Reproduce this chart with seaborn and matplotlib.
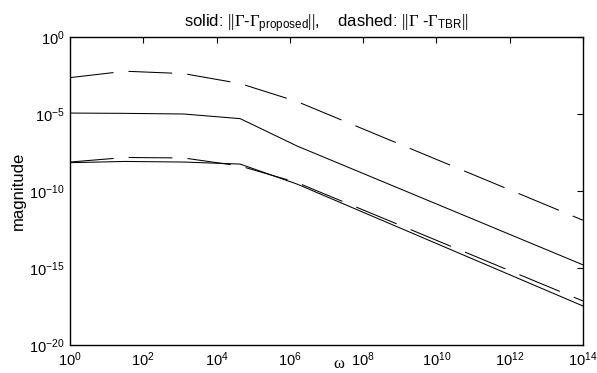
import matplotlib
matplotlib.use("Agg")
import matplotlib.pyplot as plt
import matplotlib.ticker as mticker
import seaborn as sns
import pandas as pd

# ---- data ----
omega = [1e0, 3.2e1, 1.26e3, 4.4e4, 1.58e6, 1e14]
solid_upper = [1.15e-5, 1.1e-5, 1.0e-5, 5.0e-6, 8.3e-8, 1.6e-15]
dashed_upper = [2.3e-3, 6.0e-3, 4.2e-3, 9.5e-4, 6.4e-5, 1.26e-12]
solid_lower = [6.9e-9, 8.3e-9, 7.6e-9, 5.6e-9, 2.8e-10, 3.4e-18]
dashed_lower = [7.6e-9, 1.5e-8, 1.4e-8, 4.2e-9, 3.5e-10, 7.2e-18]

xticks = [1e0, 1e2, 1e4, 1e6, 1e8, 1e10, 1e12, 1e14]
yticks = [1e-20, 1e-15, 1e-10, 1e-5, 1e0]

series = {
    ("upper", "solid"): solid_upper,
    ("upper", "dashed"): dashed_upper,
    ("lower", "solid"): solid_lower,
    ("lower", "dashed"): dashed_lower,
}
rows = []
for (grp, sty), vals in series.items():
    for w, v in zip(omega, vals):
        rows.append({"omega": w, "mag": v, "curve": f"{grp}-{sty}", "style": sty})
df = pd.DataFrame(rows)

sns.set_style("white")
plt.rcParams["font.family"] = ["Liberation Sans", "DejaVu Sans"]
plt.rcParams["mathtext.fontset"] = "custom"
plt.rcParams["mathtext.rm"] = "Liberation Serif"
plt.rcParams["mathtext.sf"] = "Liberation Sans"
plt.rcParams["mathtext.it"] = "Liberation Serif:italic"
for k in ["text.color", "axes.labelcolor", "xtick.color", "ytick.color"]:
    plt.rcParams[k] = "black"

fig = plt.figure(figsize=(5.97, 3.73), dpi=100)
ax = fig.add_axes([70 / 597, 28 / 373, 513 / 597, 308 / 373])

lw = 0.75
for curve, sub in df.groupby("curve", sort=False):
    sty = sub["style"].iloc[0]
    ls = "-" if sty == "solid" else (0, (42, 14.5))
    sns.lineplot(data=sub, x="omega", y="mag", color="black", lw=lw,
                 linestyle=ls, ax=ax, legend=False, sort=False,
                 estimator=None)

ax.set_xscale("log")
ax.set_yscale("log")
ax.set_xlim(1e0, 1e14)
ax.set_ylim(1e-20, 1e0)
ax.set_xticks(xticks)
ax.set_yticks(yticks)
ax.xaxis.set_minor_locator(mticker.NullLocator())
ax.yaxis.set_minor_locator(mticker.NullLocator())
ax.xaxis.set_major_formatter(mticker.LogFormatterSciNotation())
ax.yaxis.set_major_formatter(mticker.LogFormatterSciNotation())
ax.tick_params(which="major", direction="in", top=True, right=True,
               length=4, width=0.8, labelsize=10.5, pad=4,
               color="black", labelcolor="black")
for s in ax.spines.values():
    s.set_visible(True)
    s.set_color("black")
    s.set_linewidth(1.0)

ax.set_ylabel("magnitude", fontsize=12, labelpad=2, color="black")
ax.set_xlabel("ω", fontsize=12, family=["Liberation Serif", "DejaVu Serif"],
              color="black")
ax.xaxis.set_label_coords(0.524, -0.062)
ax.xaxis.label.set_va("center")

title = (r"solid: $||\Gamma$-$\Gamma_{\mathsf{proposed}}||$,    "
         r"dashed: $||\Gamma$ -$\Gamma_{\mathsf{TBR}}||$")
ax.set_title(title, fontsize=12, pad=7, color="black")

fig.savefig("out.png", dpi=100, facecolor="white")
